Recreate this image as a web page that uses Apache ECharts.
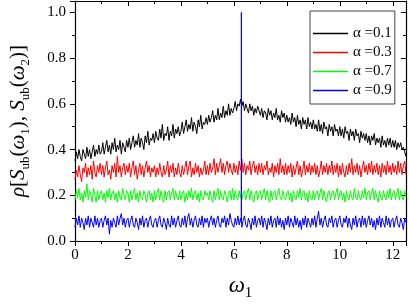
<!DOCTYPE html>
<html>
<head>
<meta charset="utf-8">
<script src="https://cdn.jsdelivr.net/npm/echarts@6/dist/echarts.min.js"></script>
<style>html,body{margin:0;padding:0;background:#fff}#c{width:409px;height:306px}</style>
</head>
<body>
<div id="c"></div>
<script>
// omega_1 sample positions (rows = one unit each)
const omega = [
0.00,0.05,0.10,0.15,0.20,0.25,0.30,0.35,0.40,0.45,0.50,0.55,0.60,0.65,0.70,0.75,0.80,0.85,0.90,0.95,
1.00,1.05,1.10,1.15,1.20,1.25,1.30,1.35,1.40,1.45,1.50,1.55,1.60,1.65,1.70,1.75,1.80,1.85,1.90,1.95,
2.00,2.05,2.10,2.15,2.20,2.25,2.30,2.35,2.40,2.45,2.50,2.55,2.60,2.65,2.70,2.75,2.80,2.85,2.90,2.95,
3.00,3.05,3.10,3.15,3.20,3.25,3.30,3.35,3.40,3.45,3.50,3.55,3.60,3.65,3.70,3.75,3.80,3.85,3.90,3.95,
4.00,4.05,4.10,4.15,4.20,4.25,4.30,4.35,4.40,4.45,4.50,4.55,4.60,4.65,4.70,4.75,4.80,4.85,4.90,4.95,
5.00,5.05,5.10,5.15,5.20,5.25,5.30,5.35,5.40,5.45,5.50,5.55,5.60,5.65,5.70,5.75,5.80,5.85,5.90,5.95,
6.00,6.05,6.10,6.15,6.20,6.25,6.28,6.2832,6.2864,6.30,6.35,6.40,6.45,6.50,6.55,6.60,6.65,6.70,6.75,6.80,6.85,6.90,6.95,
7.00,7.05,7.10,7.15,7.20,7.25,7.30,7.35,7.40,7.45,7.50,7.55,7.60,7.65,7.70,7.75,7.80,7.85,7.90,7.95,
8.00,8.05,8.10,8.15,8.20,8.25,8.30,8.35,8.40,8.45,8.50,8.55,8.60,8.65,8.70,8.75,8.80,8.85,8.90,8.95,
9.00,9.05,9.10,9.15,9.20,9.25,9.30,9.35,9.40,9.45,9.50,9.55,9.60,9.65,9.70,9.75,9.80,9.85,9.90,9.95,
10.00,10.05,10.10,10.15,10.20,10.25,10.30,10.35,10.40,10.45,10.50,10.55,10.60,10.65,10.70,10.75,10.80,10.85,10.90,10.95,
11.00,11.05,11.10,11.15,11.20,11.25,11.30,11.35,11.40,11.45,11.50,11.55,11.60,11.65,11.70,11.75,11.80,11.85,11.90,11.95,
12.00,12.05,12.10,12.15,12.20,12.25,12.30,12.35,12.40,12.45,12.50];

const alpha01 = [
0.35,0.39,0.36,0.40,0.37,0.35,0.40,0.38,0.36,0.41,0.37,0.40,0.36,0.39,0.42,0.37,0.40,0.38,0.42,0.38,
0.39,0.43,0.38,0.41,0.44,0.39,0.42,0.38,0.43,0.40,0.45,0.39,0.42,0.40,0.44,0.38,0.43,0.41,0.39,0.44,
0.41,0.45,0.40,0.43,0.46,0.41,0.44,0.42,0.47,0.41,0.45,0.43,0.40,0.46,0.43,0.48,0.42,0.45,0.44,0.47,
0.43,0.48,0.45,0.44,0.49,0.45,0.51,0.44,0.47,0.46,0.50,0.44,0.48,0.46,0.51,0.45,0.49,0.47,0.50,0.46,
0.48,0.52,0.47,0.50,0.53,0.48,0.51,0.49,0.54,0.48,0.52,0.50,0.47,0.53,0.50,0.55,0.49,0.52,0.51,0.54,
0.51,0.55,0.52,0.54,0.57,0.52,0.55,0.53,0.58,0.53,0.56,0.54,0.59,0.54,0.57,0.55,0.60,0.55,0.58,0.56,
0.58,0.61,0.57,0.60,0.59,0.62,0.60,0.61,0.62,0.59,0.61,0.57,0.60,0.58,0.56,0.60,0.57,0.59,0.55,0.58,0.56,0.59,0.57,
0.55,0.58,0.54,0.57,0.56,0.53,0.58,0.55,0.57,0.53,0.56,0.54,0.58,0.53,0.55,0.52,0.57,0.54,0.56,0.52,
0.55,0.52,0.54,0.51,0.56,0.52,0.54,0.50,0.55,0.51,0.53,0.49,0.54,0.51,0.53,0.49,0.54,0.50,0.52,0.49,
0.53,0.49,0.51,0.48,0.53,0.48,0.51,0.47,0.52,0.49,0.50,0.46,0.51,0.48,0.50,0.46,0.51,0.48,0.49,0.46,
0.50,0.46,0.49,0.45,0.50,0.47,0.48,0.44,0.49,0.46,0.48,0.44,0.49,0.46,0.47,0.43,0.48,0.45,0.47,0.44,
0.47,0.43,0.46,0.42,0.46,0.44,0.47,0.42,0.45,0.43,0.45,0.41,0.46,0.42,0.44,0.41,0.45,0.42,0.45,0.41,
0.44,0.41,0.44,0.40,0.43,0.41,0.43,0.40,0.41,0.39,0.37];

const alpha03 = [
0.27,0.31,0.28,0.33,0.29,0.26,0.32,0.30,0.34,0.28,0.32,0.29,0.33,0.27,0.35,0.30,0.28,0.33,0.30,0.34,
0.29,0.33,0.28,0.32,0.35,0.29,0.31,0.27,0.33,0.30,0.34,0.28,0.37,0.30,0.33,0.28,0.32,0.34,0.29,0.33,
0.30,0.34,0.28,0.32,0.35,0.29,0.33,0.27,0.31,0.34,0.29,0.33,0.28,0.32,0.35,0.30,0.33,0.28,0.32,0.30,
0.33,0.28,0.32,0.29,0.34,0.30,0.28,0.33,0.29,0.31,0.35,0.28,0.33,0.30,0.34,0.28,0.32,0.29,0.34,0.30,
0.28,0.33,0.29,0.32,0.35,0.29,0.33,0.35,0.28,0.32,0.29,0.34,0.30,0.33,0.28,0.32,0.29,0.31,0.35,0.29,
0.33,0.29,0.34,0.30,0.32,0.36,0.29,0.34,0.30,0.33,0.36,0.30,0.34,0.29,0.33,0.35,0.30,0.34,0.31,0.29,
0.34,0.30,0.33,0.29,0.35,0.31,0.33,0.32,0.34,0.36,0.30,0.34,0.29,0.33,0.31,0.35,0.29,0.33,0.35,0.30,0.33,0.29,0.34,
0.30,0.34,0.29,0.33,0.31,0.35,0.29,0.32,0.30,0.34,0.28,0.33,0.30,0.34,0.29,0.36,0.30,0.33,0.29,0.34,
0.29,0.33,0.30,0.34,0.28,0.33,0.29,0.32,0.35,0.29,0.33,0.28,0.31,0.35,0.29,0.33,0.30,0.34,0.29,0.33,
0.30,0.34,0.29,0.33,0.28,0.31,0.35,0.29,0.33,0.30,0.34,0.29,0.33,0.30,0.35,0.29,0.33,0.30,0.34,0.28,
0.33,0.29,0.34,0.30,0.28,0.33,0.29,0.34,0.30,0.36,0.29,0.33,0.30,0.34,0.29,0.33,0.28,0.32,0.35,0.30,
0.33,0.29,0.34,0.30,0.35,0.29,0.33,0.30,0.34,0.29,0.33,0.28,0.34,0.30,0.33,0.29,0.35,0.30,0.33,0.29,
0.34,0.30,0.33,0.29,0.35,0.30,0.34,0.29,0.33,0.35,0.29];

const alpha07 = [
0.18,0.22,0.19,0.23,0.18,0.21,0.17,0.22,0.19,0.25,0.18,0.22,0.20,0.17,0.23,0.20,0.17,0.22,0.18,0.21,
0.22,0.18,0.21,0.17,0.22,0.19,0.23,0.18,0.21,0.22,0.18,0.21,0.17,0.22,0.19,0.18,0.23,0.20,0.18,0.22,
0.21,0.17,0.22,0.18,0.21,0.23,0.18,0.21,0.17,0.22,0.19,0.18,0.22,0.20,0.17,0.21,0.22,0.18,0.21,0.17,
0.22,0.18,0.21,0.23,0.18,0.22,0.19,0.17,0.22,0.18,0.21,0.22,0.18,0.21,0.23,0.18,0.22,0.19,0.18,0.22,
0.18,0.21,0.22,0.17,0.21,0.18,0.22,0.19,0.23,0.18,0.21,0.22,0.18,0.21,0.17,0.22,0.19,0.18,0.22,0.20,
0.21,0.18,0.22,0.19,0.17,0.22,0.18,0.21,0.23,0.18,0.22,0.19,0.18,0.22,0.20,0.17,0.21,0.22,0.18,0.23,
0.18,0.22,0.19,0.18,0.22,0.19,0.21,0.20,0.22,0.18,0.21,0.22,0.18,0.21,0.23,0.18,0.22,0.19,0.17,0.21,0.22,0.18,0.21,
0.22,0.18,0.21,0.23,0.18,0.22,0.19,0.17,0.22,0.18,0.21,0.22,0.18,0.21,0.23,0.19,0.18,0.22,0.19,0.18,
0.21,0.22,0.18,0.21,0.17,0.22,0.19,0.18,0.22,0.19,0.23,0.18,0.21,0.22,0.18,0.21,0.17,0.22,0.19,0.18,
0.22,0.18,0.21,0.22,0.18,0.21,0.23,0.18,0.22,0.19,0.17,0.21,0.22,0.18,0.21,0.22,0.18,0.21,0.23,0.18,
0.21,0.22,0.18,0.21,0.17,0.22,0.19,0.18,0.22,0.19,0.18,0.23,0.19,0.18,0.22,0.19,0.18,0.22,0.19,0.23,
0.18,0.21,0.22,0.18,0.21,0.23,0.18,0.22,0.19,0.17,0.22,0.19,0.18,0.22,0.19,0.18,0.22,0.19,0.23,0.18,
0.21,0.22,0.18,0.21,0.23,0.18,0.22,0.19,0.18,0.22,0.19];

const alpha09 = [
0.06,0.10,0.07,0.11,0.06,0.10,0.08,0.05,0.10,0.07,0.11,0.06,0.10,0.08,0.06,0.11,0.07,0.10,0.06,0.09,
0.10,0.06,0.09,0.11,0.07,0.10,0.03,0.09,0.06,0.10,0.08,0.06,0.11,0.07,0.10,0.12,0.07,0.10,0.06,0.09,
0.10,0.06,0.09,0.11,0.07,0.06,0.10,0.08,0.05,0.10,0.07,0.11,0.06,0.09,0.10,0.06,0.09,0.11,0.07,0.06,
0.09,0.10,0.06,0.09,0.11,0.07,0.06,0.10,0.08,0.05,0.10,0.07,0.06,0.11,0.07,0.10,0.06,0.09,0.11,0.07,
0.06,0.10,0.07,0.11,0.06,0.10,0.12,0.07,0.10,0.06,0.09,0.11,0.07,0.06,0.10,0.07,0.11,0.06,0.10,0.08,
0.10,0.06,0.09,0.11,0.07,0.10,0.06,0.09,0.11,0.07,0.06,0.10,0.08,0.11,0.06,0.10,0.07,0.12,0.09,0.07,
0.06,0.10,0.07,0.11,0.07,0.10,0.08,1.00,0.09,0.06,0.09,0.11,0.07,0.06,0.10,0.08,0.05,0.10,0.07,0.11,0.06,0.09,0.10,
0.07,0.11,0.06,0.10,0.08,0.05,0.10,0.07,0.11,0.06,0.09,0.10,0.06,0.11,0.07,0.10,0.06,0.09,0.05,0.10,
0.07,0.11,0.06,0.10,0.08,0.06,0.11,0.07,0.10,0.06,0.09,0.05,0.10,0.07,0.11,0.06,0.10,0.08,0.06,0.10,
0.07,0.11,0.06,0.10,0.13,0.07,0.10,0.06,0.09,0.11,0.07,0.06,0.10,0.08,0.11,0.06,0.09,0.10,0.06,0.09,
0.11,0.07,0.06,0.10,0.08,0.11,0.06,0.10,0.07,0.05,0.10,0.07,0.11,0.06,0.09,0.10,0.06,0.11,0.07,0.10,
0.06,0.09,0.11,0.07,0.10,0.06,0.09,0.05,0.10,0.07,0.11,0.06,0.10,0.08,0.06,0.11,0.07,0.10,0.06,0.09,
0.10,0.06,0.09,0.11,0.07,0.06,0.10,0.08,0.05,0.10,0.08];

const seriesNames = ['α =0.1','α =0.3','α =0.7','α =0.9'];
const seriesColors = ['#000000','#ff0000','#00ff00','#0000ff'];
const seriesValues = [alpha01, alpha03, alpha07, alpha09];

const FONT = '"Liberation Serif","Times New Roman",serif';
const chart = echarts.init(document.getElementById('c'), null, {renderer:'canvas'});

function pairs(vals){ return omega.map((x,i)=>[x, vals[i]]); }

const axisCommon = {
  axisLine:{show:true,onZero:false,lineStyle:{color:'#000',width:1.2}},
  splitLine:{show:false}
};

chart.setOption({
  animation:false,
  backgroundColor:'#fff',
  grid:{left:67,right:3,top:1,bottom:53,containLabel:false},
  legend:{
    orient:'vertical', left:310, top:11,
    padding:[15,3,6,3],
    icon:'rect',
    itemWidth:35, itemHeight:1.6, itemGap:4,
    borderColor:'#444', borderWidth:1,
    data:seriesNames,
    textStyle:{fontFamily:FONT,fontSize:15,color:'#000'}
  },
  xAxis:[
    Object.assign({type:'value',position:'bottom',min:0,max:12.5,interval:2,
      axisTick:{show:true,inside:false,length:5,lineStyle:{color:'#000',width:1}},
      minorTick:{show:true,splitNumber:2,length:3,lineStyle:{color:'#000',width:1}},
      axisLabel:{show:true,margin:7,color:'#000',fontFamily:FONT,fontSize:15,showMaxLabel:false,
        formatter:v=>(Math.abs(v/2-Math.round(v/2))<1e-9?String(v):'')},
      name:'{i|ω}{s|1}',nameLocation:'middle',nameGap:30,
      nameTextStyle:{rich:{
        i:{fontFamily:FONT,fontStyle:'italic',fontSize:23,color:'#000',lineHeight:30,verticalAlign:'middle'},
        s:{fontFamily:FONT,fontSize:15,color:'#000',lineHeight:15,verticalAlign:'bottom'}}}
    },axisCommon),
    Object.assign({type:'value',position:'top',min:0,max:12.5,interval:2,
      axisTick:{show:true,inside:true,length:5,lineStyle:{color:'#000',width:1}},
      minorTick:{show:true,splitNumber:2,length:3,lineStyle:{color:'#000',width:1}},
      axisLabel:{show:false}},axisCommon)
  ],
  yAxis:[
    Object.assign({type:'value',position:'left',min:0,max:1.05,interval:0.2,
      axisTick:{show:true,inside:false,length:5,lineStyle:{color:'#000',width:1}},
      minorTick:{show:true,splitNumber:2,length:3,lineStyle:{color:'#000',width:1}},
      axisLabel:{show:true,margin:9,color:'#000',fontFamily:FONT,fontSize:15,showMaxLabel:false,
        formatter:v=>(Math.abs(v*5-Math.round(v*5))<1e-9?v.toFixed(1):'')},
      name:'{i|ρ}{n|[}{i|S}{s|ub}{n|(}{i|ω}{s|1}{n|), }{i|S}{s|ub}{n|(}{i|ω}{s|2}{n|)]}',
      nameLocation:'middle',nameGap:43,nameRotate:90,
      nameTextStyle:{rich:{
        i:{fontFamily:FONT,fontStyle:'italic',fontSize:21,color:'#000',lineHeight:27,verticalAlign:'middle'},
        n:{fontFamily:FONT,fontSize:21,color:'#000',lineHeight:27,verticalAlign:'middle'},
        s:{fontFamily:FONT,fontSize:13,color:'#000',lineHeight:13,verticalAlign:'bottom'}}}
    },axisCommon),
    Object.assign({type:'value',position:'right',min:0,max:1.05,interval:0.2,
      axisTick:{show:true,inside:true,length:5,lineStyle:{color:'#000',width:1}},
      minorTick:{show:true,splitNumber:2,length:3,lineStyle:{color:'#000',width:1}},
      axisLabel:{show:false}},axisCommon)
  ],
  series: seriesNames.map((n,k)=>({
    name:n, type:'line', xAxisIndex:0, yAxisIndex:0,
    data:pairs(seriesValues[k]),
    showSymbol:false, symbol:'none',
    lineStyle:{color:seriesColors[k],width:1},
    itemStyle:{color:seriesColors[k]},
    z:2+k
  }))
});
</script>
</body>
</html>
